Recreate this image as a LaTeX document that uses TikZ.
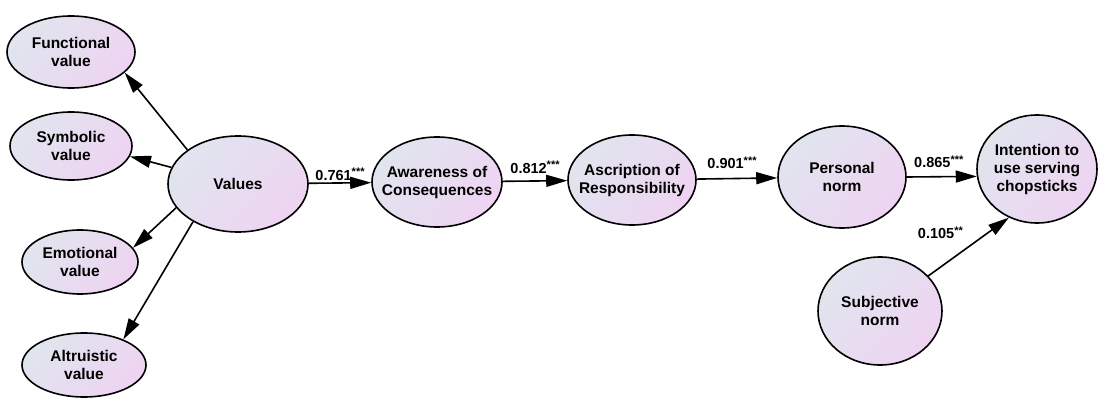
\documentclass[tikz,border=0pt]{standalone}
\usepackage{fontspec}
\setmainfont{Liberation Sans}
\usetikzlibrary{shapes.geometric,arrows.meta,positioning}
\definecolor{cA}{RGB}{224,229,238}
\definecolor{cB}{RGB}{238,212,242}
\newcommand{\stars}[1]{\raisebox{4.5pt}{\fontsize{11}{11}\selectfont #1}}
\begin{document}
\begin{tikzpicture}[x=1pt,y=-1pt,
  var/.style={ellipse,draw=black,line width=1.6pt,left color=cA,right color=cB,shading angle=50,inner sep=-16pt,align=center,
    font=\fontsize{15.5}{18}\selectfont\bfseries},
  arr/.style={line width=1.6pt,-{Triangle[length=21pt,width=12pt]}},
  coef/.style={font=\fontsize{14.5}{16}\selectfont\bfseries,inner sep=1pt}]
\useasboundingbox (0,0) rectangle (1098,401);
\fill[white] (0,0) rectangle (1098,401);
% nodes
\node[var,minimum width=128pt,minimum height=72pt] (func) at (71,52) {Functional\\value};
\node[var,minimum width=122pt,minimum height=68pt] (symb) at (71,146) {Symbolic\\value};
\node[var,minimum width=116pt,minimum height=64pt] (emot) at (80,262) {Emotional\\value};
\node[var,minimum width=124pt,minimum height=64pt] (altr) at (84,365) {Altruistic\\value};
\node[var,minimum width=140pt,minimum height=96pt] (values) at (238,184) {Values};
\node[var,minimum width=130pt,minimum height=90pt] (aware) at (437,182) {Awareness of\\Consequences};
\node[var,minimum width=128pt,minimum height=90pt] (ascr) at (632,180) {Ascription of\\Responsibility};
\node[var,minimum width=128pt,minimum height=102pt] (pers) at (842,177) {Personal\\norm};
\node[var,minimum width=120pt,minimum height=108pt] (intent) at (1037,169) {Intention to\\use serving\\chopsticks};
\node[var,minimum width=124pt,minimum height=108pt] (subj) at (880,311) {Subjective\\norm};
% connectors
\draw[arr] (values.146) -- (func.-21);
\draw[arr] (values.166) -- (symb.-10);
\draw[arr] (values.201) -- (emot.15);
\draw[arr] (values.220) -- (altr.33);
\draw[arr] (values) -- node[coef,above=1pt] {0.761\stars{***}} (aware);
\draw[arr] (aware) -- node[coef,above=6pt] {0.812\stars{***}} (ascr);
\draw[arr] (ascr) -- node[coef,above=8pt,xshift=-5pt] {0.901\stars{***}} (pers);
\draw[arr] (pers.east) -- node[coef,above=7pt,xshift=-3pt] {0.865\stars{***}} (intent.187);
\draw[arr] (subj.36) -- node[coef,pos=0.55,above left=3pt and 8pt] {0.105\stars{**}} (intent.240);
\end{tikzpicture}
\end{document}
